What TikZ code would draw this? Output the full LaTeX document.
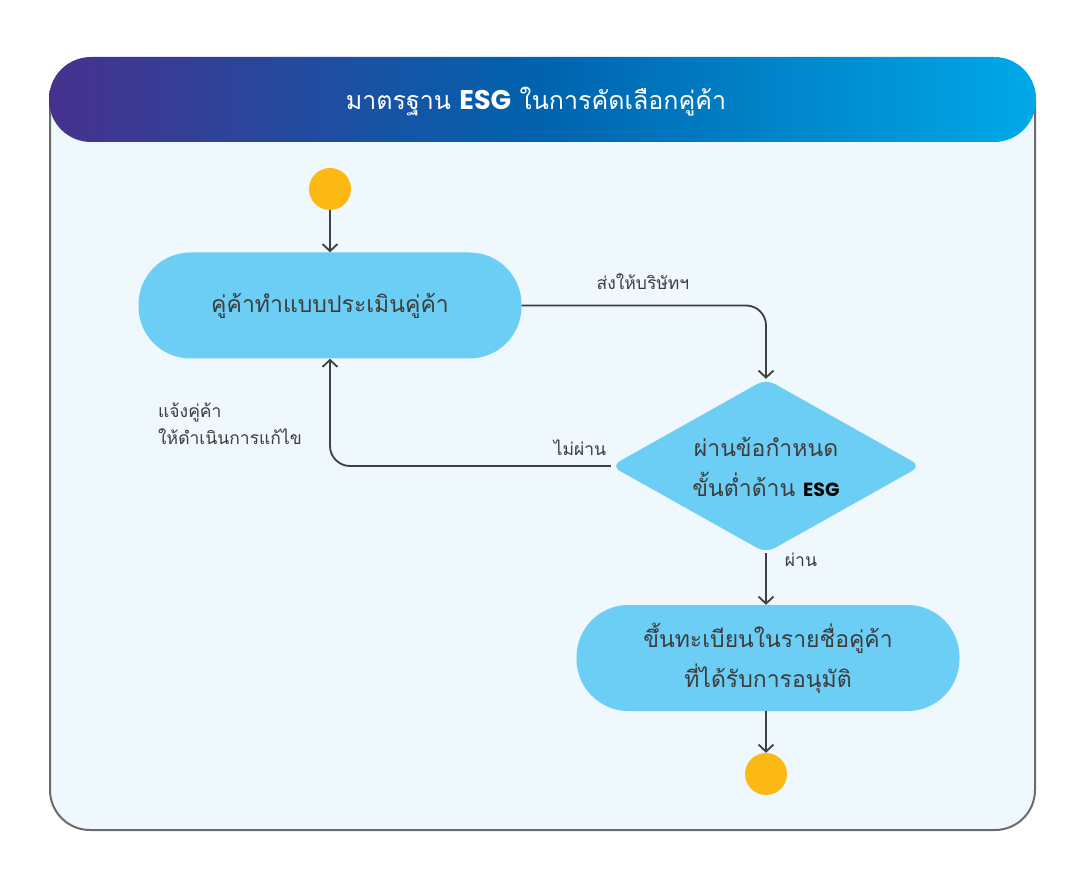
\documentclass[tikz,border=0pt]{standalone}
\usepackage{fontspec}
\setmainfont[Script=Thai]{Loma}
\newfontfamily\esgfont{Poppins}
\usetikzlibrary{arrows.meta,shapes.geometric}
\definecolor{frameln}{HTML}{6B6B6B}
\definecolor{framebg}{HTML}{EEF8FD}
\definecolor{boxfill}{HTML}{6DCEF5}
\definecolor{dotfill}{HTML}{FDB913}
\definecolor{lnc}{HTML}{404040}
\definecolor{txt}{HTML}{3D3D3D}
\definecolor{hdA}{HTML}{47318E}
\definecolor{hdB}{HTML}{0063AE}
\definecolor{hdC}{HTML}{00A9E8}
\pgfdeclarehorizontalshading{hdrshade}{100bp}{color(0bp)=(hdA); color(25bp)=(hdA); color(50bp)=(hdB); color(75bp)=(hdC); color(100bp)=(hdC)}
\tikzset{
  pill/.style={draw=none, fill=boxfill, rounded corners=52pt, minimum width=383pt, minimum height=106pt, inner sep=0pt, text=txt, font=\fontsize{23}{40}\selectfont, align=center},
  dot/.style={circle, fill=dotfill, minimum size=42pt, inner sep=0pt},
  conn/.style={draw=lnc, line width=1.8pt, rounded corners=20pt},
  arr/.style={-{Straight Barb[length=7pt,width=15pt,line width=1.8pt]}},
  lab/.style={text=txt, font=\fontsize{17.5}{27}\selectfont, inner sep=0pt},
}
\begin{document}
\begin{tikzpicture}[x=1pt,y=-1pt]
\useasboundingbox (0,0) rectangle (1068,882);
% frame
\draw[draw=frameln, fill=framebg, line width=2pt, rounded corners=40pt] (50,60) rectangle (1035,830);
\shade[shading=hdrshade, rounded corners=42pt] (49,57) rectangle (1036,142);
\node[text=white, font=\fontsize{25}{28}\selectfont] (title) at (536,102) {มาตรฐาน {\esgfont\bfseries\fontsize{27}{28}\selectfont ESG} ในการคัดเลือกคู่ค้า};
% nodes
\node[dot] (start) at (330,189) {};
\node[pill] (b1) at (330,305.5) {คู่ค้าทำแบบประเมินคู่ค้า};
\node[diamond, fill=boxfill, rounded corners=10pt, minimum width=310pt, minimum height=174pt, aspect=1.78, inner sep=0pt] (dia) at (766,466) {};
\node[text=txt, font=\fontsize{23}{40}\selectfont, align=center] (diat) at (766,467) {ผ่านข้อกำหนด\\ขั้นต่ำด้าน {\esgfont\bfseries\fontsize{19}{20}\selectfont\color{black} ESG}};
\node[pill] (b2) at (768,658) {ขึ้นทะเบียนในรายชื่อคู่ค้า\\ที่ได้รับการอนุมัติ};
\node[dot] (end) at (766,774) {};
% connectors
\draw[conn, arr] (start) -- (b1);
\draw[conn, arr] (b1.east) -| (dia.north);
\draw[conn, arr] (dia.west) -| (b1.south);
\draw[conn, arr] (dia.south) -- (dia.south |- b2.north);
\draw[conn, arr] (b2.south -| end) -- (end);
% labels
\node[lab] (l1) at (643,282) {ส่งให้บริษัทฯ};
\node[lab] (l2) at (580,448) {ไม่ผ่าน};
\node[lab] (l3) at (801,560) {ผ่าน};
\node[lab, anchor=west, align=left] (l4) at (158,424) {แจ้งคู่ค้า\\ให้ดำเนินการแก้ไข};
\end{tikzpicture}
\end{document}
